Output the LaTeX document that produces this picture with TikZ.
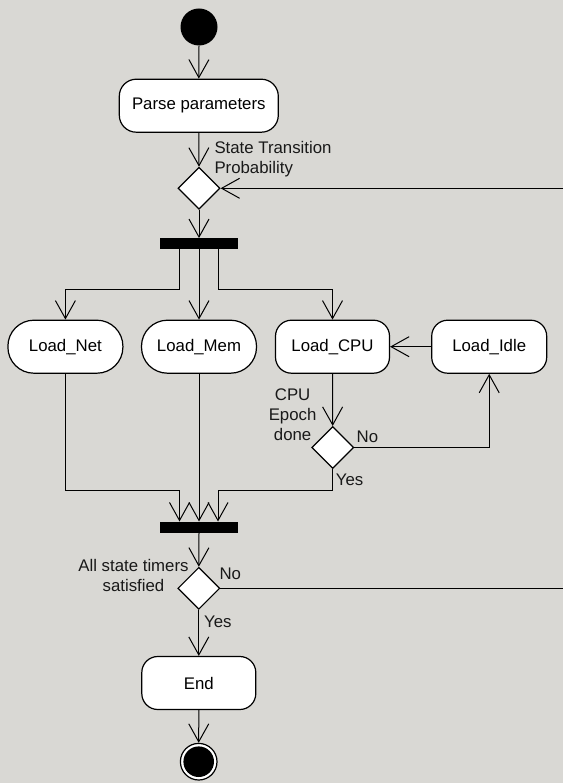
\documentclass[tikz,border=0pt]{standalone}
\usepackage{fontspec}
\setmainfont{Liberation Sans}
\usetikzlibrary{arrows.meta,shapes.geometric}
\definecolor{bg}{RGB}{217,216,212}
\begin{document}
\begin{tikzpicture}[x=1pt,y=-1pt,
  font=\fontsize{16.8}{20}\selectfont,
  every node/.style={inner sep=0pt},
  arr/.style={line width=1pt,-{Straight Barb[length=18pt,width=20pt,line width=1pt]}},
  ln/.style={line width=1pt},
  act/.style={draw,line width=1.2pt,fill=white,rectangle,rounded corners=17pt,minimum height=53pt},
  stad/.style={draw,line width=1.2pt,fill=white,rectangle,rounded corners=26pt,minimum height=53pt,minimum width=115pt},
  dec/.style={draw,line width=1.2pt,fill=white,diamond,minimum width=42pt,minimum height=42pt},
  bar/.style={fill=black,rectangle,minimum width=78pt,minimum height=11pt},
  lbl/.style={text=black!90}]
\fill[bg] (0,0) rectangle (563,783);
\useasboundingbox (0,0) rectangle (563,783);

% nodes
\node[circle,fill=black,minimum size=37pt] (start) at (199,27) {};
\node[act,minimum width=159pt] (parse) at (198.8,105.7) {Parse parameters};
\node[dec] (d1) at (199,188.3) {};
\node[bar] (fork) at (199,243.8) {};
\node[stad] (net) at (65.4,346.7) {Load\_Net};
\node[stad] (mem) at (199,346.7) {Load\_Mem};
\node[act,minimum width=114pt,rounded corners=16pt] (cpu) at (332.5,346.7) {Load\_CPU};
\node[act,minimum width=115pt,rounded corners=16pt] (idle) at (489.2,346.7) {Load\_Idle};
\node[dec] (d2) at (332.7,447.5) {};
\node[bar] (join) at (199,527.2) {};
\node[dec] (d3) at (198.8,588.3) {};
\node[act,minimum width=114pt,rounded corners=16pt] (endb) at (198.8,683) {End};
\node[circle,draw,line width=1.2pt,fill=white,minimum size=36.6pt] (fin) at (198.7,761.7) {};
\node[circle,fill=black,minimum size=30.6pt] (finin) at (198.7,761.7) {};

% coordinates
\coordinate (r1) at (563,188.3);
\coordinate (r2) at (563,588.3);
\coordinate (fl) at (179.5,289);
\coordinate (fr) at (218,289);
\coordinate (jl) at (179.5,490);
\coordinate (jr) at (218,490);

% connectors
\draw[arr] (start.south) -- (parse.north);
\draw[arr] (parse.south) -- (d1.north);
\draw[arr] (r1) -- (d1.east);
\draw[arr] (d1.south) -- (fork.north);
\draw[arr] (fork.south -| fl) -- (fl) -| (net.north);
\draw[arr] (fork.south) -- (mem.north);
\draw[arr] (fork.south -| fr) -- (fr) -| (cpu.north);
\draw[arr] (idle.west) -- (cpu.east);
\draw[arr] (cpu.south) -- (d2.north);
\draw[arr] (d2.east) -| (idle.south);
\draw[arr] (net.south) |- (jl) -- (jl |- join.north);
\draw[arr] (mem.south) -- (join.north);
\draw[arr] (d2.south) |- (jr) -- (jr |- join.north);
\draw[arr] (join.south) -- (d3.north);
\draw[ln] (d3.east) -- (r2);
\draw[arr] (d3.south) -- (endb.north);
\draw[arr] (endb.south) -- (fin.north);

% labels
\node[lbl,anchor=north west,align=left] (l1) at (214.3,141.5) {State Transition\\Probability};
\node[lbl,anchor=north,align=center] (l2) at (292.6,389) {CPU\\Epoch\\done};
\node[lbl,anchor=west] (l3) at (356.5,436.7) {No};
\node[lbl,anchor=west] (l4) at (335.7,480) {Yes};
\node[lbl,anchor=north,align=center] (l5) at (133.5,559) {All state timers\\satisfied};
\node[lbl,anchor=west] (l6) at (219.3,573.3) {No};
\node[lbl,anchor=west] (l7) at (204,621.7) {Yes};
\end{tikzpicture}
\end{document}
